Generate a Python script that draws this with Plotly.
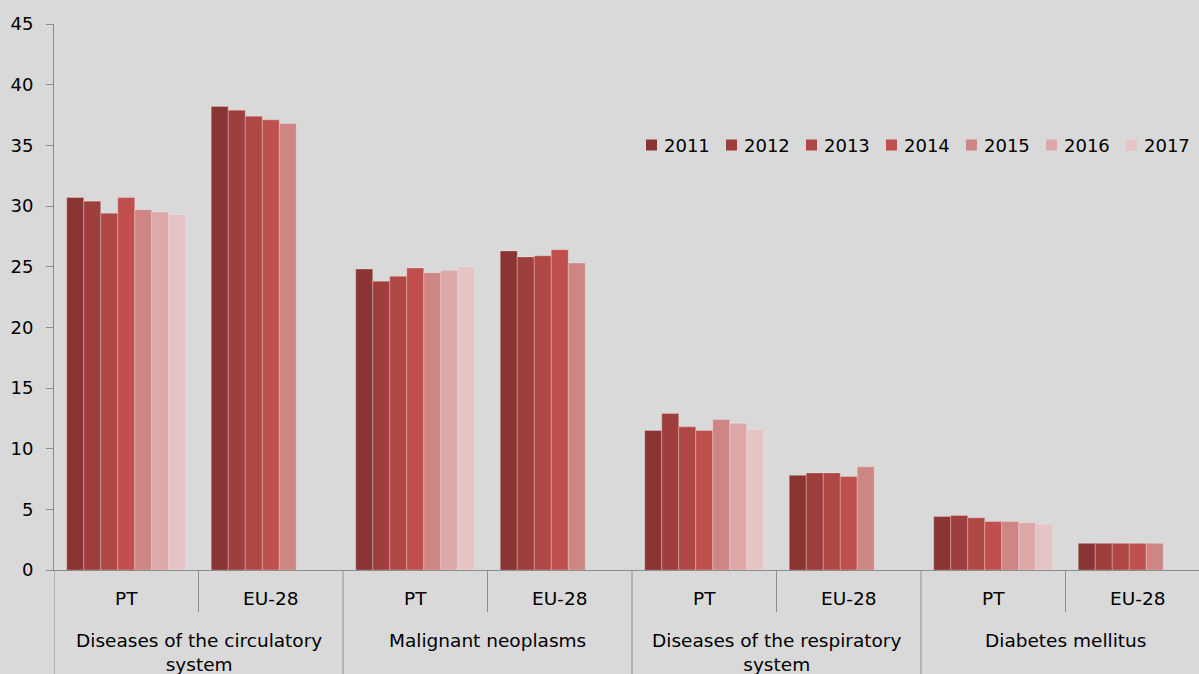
import plotly.graph_objects as go

# Causes of death: share (%) of all deaths, Portugal vs EU-28
groups = ["Diseases of the circulatory<br>system", "Malignant neoplasms",
          "Diseases of the respiratory<br>system", "Diabetes mellitus"]
regions = ["PT", "EU-28"]
years = ["2011", "2012", "2013", "2014", "2015", "2016", "2017"]

# values per year, ordered: (group1 PT, group1 EU-28, group2 PT, group2 EU-28, ...)
v2011 = [30.7, 38.2, 24.8, 26.3, 11.5, 7.8, 4.4, 2.2]
v2012 = [30.4, 37.9, 23.8, 25.8, 12.9, 8.0, 4.5, 2.2]
v2013 = [29.4, 37.4, 24.2, 25.9, 11.8, 8.0, 4.3, 2.2]
v2014 = [30.7, 37.1, 24.9, 26.4, 11.5, 7.7, 4.0, 2.2]
v2015 = [29.7, 36.8, 24.5, 25.3, 12.4, 8.5, 4.0, 2.2]
v2016 = [29.5, None, 24.7, None, 12.1, None, 3.9, None]
v2017 = [29.3, None, 25.0, None, 11.6, None, 3.8, None]
series = [v2011, v2012, v2013, v2014, v2015, v2016, v2017]

colors = ["#8A3534", "#9E3F3D", "#AF4845", "#C0504D", "#CE8684", "#DCA9A8", "#E5C4C5"]

FONT = "DejaVu Sans"
AXIS_COL = "#8C8C8C"

# one slot per (group, region) pair along the x axis
slots = [(g, r) for g in groups for r in regions]
xpos = list(range(len(slots)))

fig = go.Figure()
for yr, vals, col in zip(years, series, colors):
    fig.add_trace(go.Bar(
        x=xpos, y=vals, name=yr, showlegend=False,
        marker=dict(color=col, line=dict(color="rgba(255,255,255,0.25)", width=1)),
    ))

W, H = 1199, 674
left, top, bottom = 54, 24, 104
plot_w = W - left
plot_h = H - top - bottom
cat_px = 144.5
span = plot_w / cat_px


def py2paper(py):
    """paper y for a pixel row of the page"""
    return ((H - bottom) - py) / plot_h


def px2paper(px):
    """paper x for a pixel column of the page"""
    return (px - left) / plot_w


# two-level category labels and their dividers
n_reg = len(regions)
for i, (g, r) in enumerate(slots):
    fig.add_annotation(x=i, y=py2paper(598), xref="x", yref="paper", text=r,
                       showarrow=False, yanchor="middle",
                       font=dict(family=FONT, size=18.5, color="#000000"))
for k, g in enumerate(groups):
    centre = k * n_reg + (n_reg - 1) / 2
    fig.add_annotation(x=centre, y=py2paper(628), xref="x", yref="paper", text=g,
                       showarrow=False, yanchor="top", align="center",
                       font=dict(family=FONT, size=18.5, color="#000000"))
    for j in range(1, n_reg):
        fig.add_shape(type="line", xref="x", yref="paper",
                      x0=k * n_reg + j - 0.5, x1=k * n_reg + j - 0.5,
                      y0=0, y1=py2paper(612), line=dict(color=AXIS_COL, width=1))
for k in range(len(groups) + 1):
    xb = k * n_reg - 0.5
    fig.add_shape(type="line", xref="x", yref="paper", x0=xb, x1=xb,
                  y0=0, y1=py2paper(H + 20), line=dict(color=AXIS_COL, width=1))

# horizontal legend: coloured square + year label
leg_x0, leg_pitch, leg_y, sq = 646, 80, 145, 11
for i, (yr, col) in enumerate(zip(years, colors)):
    sx = leg_x0 + i * leg_pitch
    fig.add_shape(type="rect", xref="paper", yref="paper",
                  x0=px2paper(sx), x1=px2paper(sx + sq),
                  y0=py2paper(leg_y + sq / 2), y1=py2paper(leg_y - sq / 2),
                  fillcolor=col, line=dict(width=0))
    fig.add_annotation(x=px2paper(sx + sq + 5), y=py2paper(leg_y), xref="paper", yref="paper",
                       text=yr, showarrow=False, xanchor="left", yanchor="middle",
                       font=dict(family=FONT, size=18, color="#000000"))

fig.update_layout(
    width=W, height=H,
    barmode="group", bargap=0.176, bargroupgap=0,
    paper_bgcolor="#D9D9D9", plot_bgcolor="#D9D9D9",
    margin=dict(l=left, r=0, t=top, b=bottom, autoexpand=False),
    font=dict(family=FONT, size=18, color="#000000"),
    showlegend=False,
    xaxis=dict(
        range=[-0.5, -0.5 + span],
        showline=True, linecolor=AXIS_COL, linewidth=1,
        showticklabels=False, ticks="",
        showgrid=False, zeroline=False, automargin=False,
    ),
    yaxis=dict(
        range=[0, 45], dtick=5, tickformat="d",
        showline=True, linecolor=AXIS_COL, linewidth=1,
        ticks="outside", tickcolor=AXIS_COL, ticklen=7,
        ticklabelstandoff=9,
        tickfont=dict(family=FONT, size=18, color="#000000"),
        showgrid=False, zeroline=False, automargin=False,
    ),
)

fig.write_html("out.html")
